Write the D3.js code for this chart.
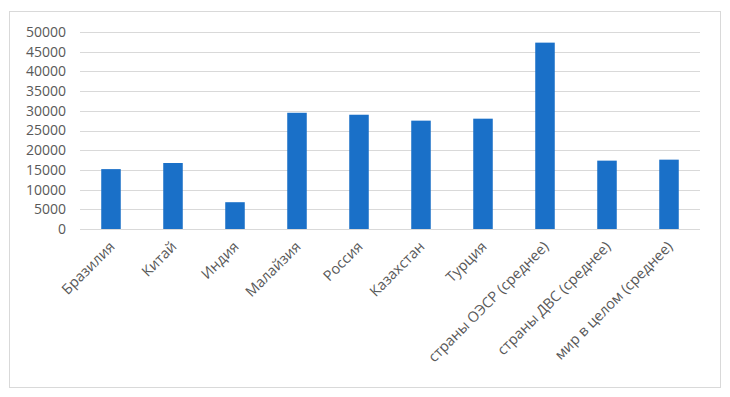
<!DOCTYPE html>
<html>
<head>
<meta charset="utf-8">
<script src="https://cdn.jsdelivr.net/npm/d3@7"></script>
<style>
  body { margin: 0; background: #fff; }
  text { font-family: "Open Sans", sans-serif; fill: #595959; }
</style>
</head>
<body>
<svg id="chart" width="730" height="397"></svg>
<script>
const categories = ["Бразилия", "Китай", "Индия", "Малайзия", "Россия", "Казахстан", "Турция",
    "страны ОЭСР (среднее)", "страны ДВС (среднее)", "мир в целом (среднее)"];
const values = [15200, 16750, 6800, 29500, 29000, 27500, 28000, 47300, 17350, 17600];
const yTicks = [0, 5000, 10000, 15000, 20000, 25000, 30000, 35000, 40000, 45000, 50000];

const svg = d3.select("#chart");
const margin = { left: 80, right: 30, top: 32, bottom: 168 };
const width = +svg.attr("width");
const height = +svg.attr("height");

// outer frame
svg.append("rect")
    .attr("x", 9.5).attr("y", 11.5)
    .attr("width", 711).attr("height", 376)
    .attr("fill", "#fff")
    .attr("stroke", "#d9d9d9");

const x = d3.scaleBand()
    .domain(categories)
    .range([margin.left, width - margin.right])
    .paddingInner(0.685)
    .paddingOuter(0.3425);

const y = d3.scaleLinear()
    .domain([0, 50000])
    .range([height - margin.bottom, margin.top]);

// gridlines
svg.append("g")
    .selectAll("line")
    .data(yTicks)
    .join("line")
    .attr("x1", margin.left)
    .attr("x2", width - margin.right)
    .attr("y1", d => Math.round(y(d)) + 0.5)
    .attr("y2", d => Math.round(y(d)) + 0.5)
    .attr("stroke", "#d9d9d9")
    .attr("stroke-width", 1);

// y axis labels
const yAxis = svg.append("g")
    .attr("transform", `translate(${margin.left},0)`)
    .call(d3.axisLeft(y).tickValues(yTicks).tickSize(0).tickPadding(14).tickFormat(d3.format("d")));
yAxis.select(".domain").remove();
yAxis.selectAll("text")
    .style("font-family", "'Open Sans', sans-serif")
    .style("font-size", "14px")
    .attr("fill", "#595959");

// bars
svg.append("g")
    .selectAll("rect")
    .data(values)
    .join("rect")
    .attr("x", (d, i) => x(categories[i]))
    .attr("y", d => y(d))
    .attr("width", x.bandwidth())
    .attr("height", d => y(0) - y(d))
    .attr("fill", "#1a70c8");

// x labels, rotated
svg.append("g")
    .selectAll("text")
    .data(categories)
    .join("text")
    .attr("transform", d => `translate(${x(d) + x.bandwidth() / 2 + 1},${y(0) + 15}) rotate(-45)`)
    .attr("text-anchor", "end")
    .attr("dy", "0.35em")
    .style("font-size", "14.5px")
    .text(d => d);
</script>
</body>
</html>
